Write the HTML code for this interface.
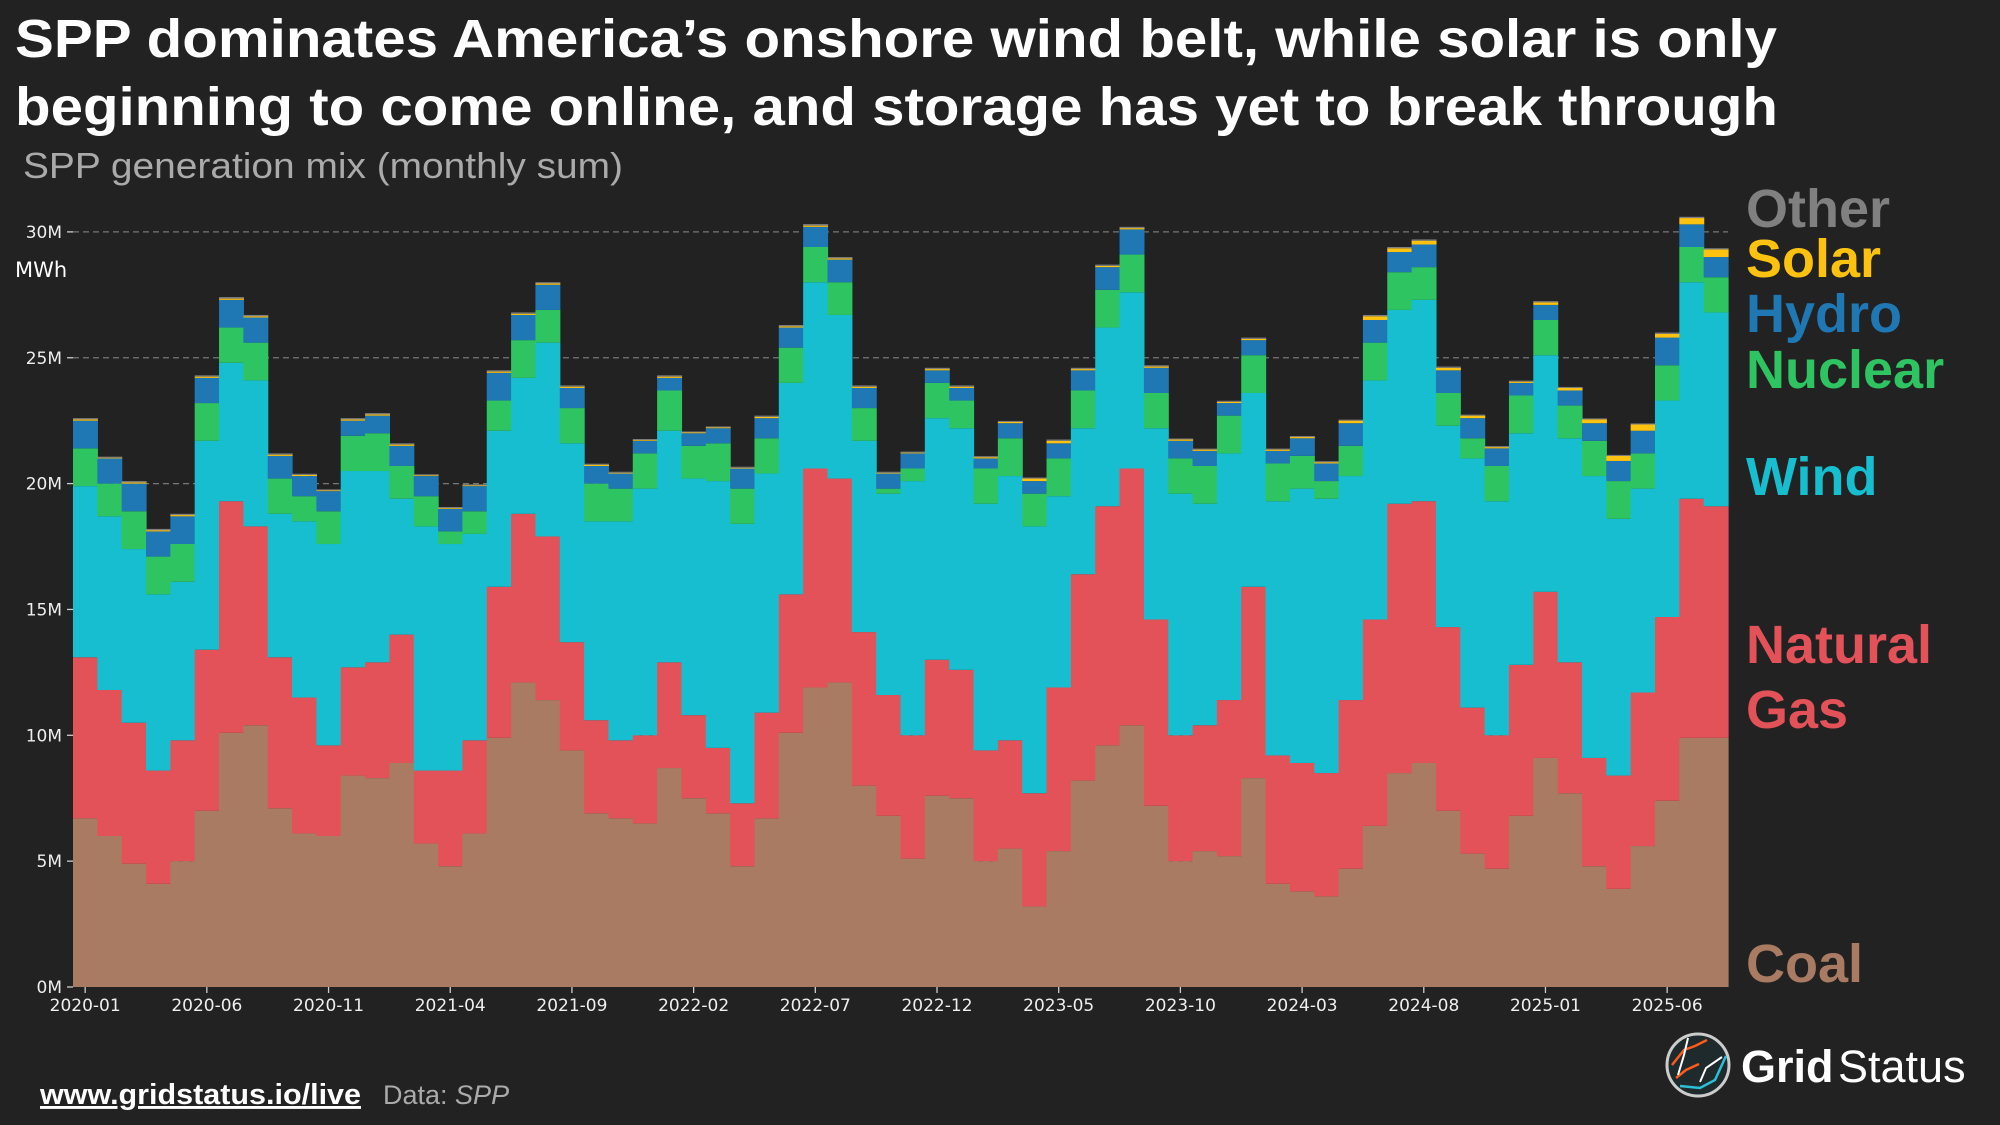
<!DOCTYPE html>
<html><head><meta charset="utf-8">
<style>
html,body{margin:0;padding:0;background:#222222;}
svg{display:block;}
</style></head>
<body>
<svg id="chart" width="2000" height="1125" viewBox="0 0 2000 1125" xmlns="http://www.w3.org/2000/svg">
<rect x="0" y="0" width="2000" height="1125" fill="#222222"/>
<text x="15" y="57" font-family="Liberation Sans, sans-serif" font-weight="bold" font-size="54" fill="#ffffff" textLength="1762" lengthAdjust="spacingAndGlyphs">SPP dominates America’s onshore wind belt, while solar is only</text>
<text x="15" y="125" font-family="Liberation Sans, sans-serif" font-weight="bold" font-size="54" fill="#ffffff" textLength="1763" lengthAdjust="spacingAndGlyphs">beginning to come online, and storage has yet to break through</text>
<text x="23" y="178" font-family="Liberation Sans, sans-serif" font-size="36" fill="#aaaaaa" textLength="600" lengthAdjust="spacingAndGlyphs">SPP generation mix (monthly sum)</text>
<text x="15" y="277" font-family="DejaVu Sans, sans-serif" font-size="21" fill="#ffffff">MWh</text>
<g id="grid"></g>
<g id="bars"></g>
<g id="axes"></g>
<g font-family="Liberation Sans, sans-serif" font-weight="bold" font-size="54">
<text x="1746" y="227" fill="#808080">Other</text>
<text x="1746" y="277" fill="#fdc10f">Solar</text>
<text x="1746" y="332" fill="#1f77b4">Hydro</text>
<text x="1746" y="388" fill="#2ec462">Nuclear</text>
<text x="1746" y="495" fill="#17becf">Wind</text>
<text x="1746" y="663" fill="#e35259">Natural</text>
<text x="1746" y="728" fill="#e35259">Gas</text>
<text x="1746" y="982" fill="#a97b62">Coal</text>
</g>
<a>
<text x="40" y="1104" font-family="Liberation Sans, sans-serif" font-weight="bold" font-size="29" fill="#ffffff" text-decoration="underline" textLength="321" lengthAdjust="spacingAndGlyphs">www.gridstatus.io/live</text>
</a>
<text x="383" y="1104" font-family="Liberation Sans, sans-serif" font-size="27" fill="#aaaaaa">Data: <tspan font-style="italic">SPP</tspan></text>
<g>
<circle cx="1698" cy="1065" r="31" fill="#1e2a2c" stroke="#cccccc" stroke-width="3"/>
<path d="M1672 1065 L1684 1050 L1695 1046 L1707 1040" stroke="#ff5a1a" stroke-width="2.5" fill="none"/>
<path d="M1676 1078 L1686 1070 L1699 1064" stroke="#ff5a1a" stroke-width="2.5" fill="none"/>
<path d="M1688 1038 L1684 1055 L1678 1075" stroke="#ffffff" stroke-width="2" fill="none"/>
<path d="M1700 1082 L1706 1068 L1722 1057" stroke="#ffffff" stroke-width="2" fill="none"/>
<path d="M1680 1086 L1700 1088 L1715 1080 L1726 1056" stroke="#2bc0d6" stroke-width="2.5" fill="none"/>
<text x="1741" y="1082" font-family="Liberation Sans, sans-serif" font-weight="bold" font-size="45" fill="#ffffff">Grid</text>
<text x="1838" y="1082" font-family="Liberation Sans, sans-serif" font-size="45" fill="#ffffff">Status</text>
</g>
</svg>
<script>
const months = ["2020-01","2020-02","2020-03","2020-04","2020-05","2020-06","2020-07","2020-08","2020-09","2020-10","2020-11","2020-12",
"2021-01","2021-02","2021-03","2021-04","2021-05","2021-06","2021-07","2021-08","2021-09","2021-10","2021-11","2021-12",
"2022-01","2022-02","2022-03","2022-04","2022-05","2022-06","2022-07","2022-08","2022-09","2022-10","2022-11","2022-12",
"2023-01","2023-02","2023-03","2023-04","2023-05","2023-06","2023-07","2023-08","2023-09","2023-10","2023-11","2023-12",
"2024-01","2024-02","2024-03","2024-04","2024-05","2024-06","2024-07","2024-08","2024-09","2024-10","2024-11","2024-12",
"2025-01","2025-02","2025-03","2025-04","2025-05","2025-06","2025-07","2025-08"];
// values in millions of MWh
const coal = [6.7,6.0,4.9,4.1,5.0,7.0,10.1,10.4,7.1,6.1,6.0,8.4,8.3,8.9,5.7,4.8,6.1,9.9,12.1,11.4,9.4,6.9,6.7,6.5,8.7,7.5,6.9,4.8,6.7,10.1,11.9,12.1,8.0,6.8,5.1,7.6,7.5,5.0,5.5,3.2,5.4,8.2,9.6,10.4,7.2,5.0,5.4,5.2,8.3,4.1,3.8,3.6,4.7,6.4,8.5,8.9,7.0,5.3,4.7,6.8,9.1,7.7,4.8,3.9,5.6,7.4,9.9,9.9];
const gas = [6.4,5.8,5.6,4.5,4.8,6.4,9.2,7.9,6.0,5.4,3.6,4.3,4.6,5.1,2.9,3.8,3.7,6.0,6.7,6.5,4.3,3.7,3.1,3.5,4.2,3.3,2.6,2.5,4.2,5.5,8.7,8.1,6.1,4.8,4.9,5.4,5.1,4.4,4.3,4.5,6.5,8.2,9.5,10.2,7.4,5.0,5.0,6.2,7.6,5.1,5.1,4.9,6.7,8.2,10.7,10.4,7.3,5.8,5.3,6.0,6.6,5.2,4.3,4.5,6.1,7.3,9.5,9.2];
const wind = [6.8,6.9,6.9,7.0,6.3,8.3,5.5,5.8,5.7,7.0,8.0,7.8,7.6,5.4,9.7,9.0,8.2,6.2,5.4,7.7,7.9,7.9,8.7,9.8,9.2,9.4,10.6,11.1,9.5,8.4,7.4,6.5,7.6,8.0,10.1,9.6,9.6,9.8,10.5,10.6,7.6,5.8,7.1,7.0,7.6,9.6,8.8,9.8,7.7,10.1,10.9,10.9,8.9,9.5,7.7,8.0,8.0,9.9,9.3,9.2,9.4,8.9,11.2,10.2,8.1,8.6,8.6,7.7];
const nuclear = [1.5,1.3,1.5,1.5,1.5,1.5,1.4,1.5,1.4,1.0,1.3,1.4,1.5,1.3,1.2,0.5,0.9,1.2,1.5,1.3,1.4,1.5,1.3,1.4,1.6,1.3,1.5,1.4,1.4,1.4,1.4,1.3,1.3,0.2,0.5,1.4,1.1,1.4,1.5,1.3,1.5,1.5,1.5,1.5,1.4,1.4,1.5,1.5,1.5,1.5,1.3,0.7,1.2,1.5,1.5,1.3,1.3,0.8,1.4,1.5,1.4,1.3,1.4,1.5,1.4,1.4,1.4,1.4];
const hydro = [1.1,1.0,1.1,1.0,1.1,1.0,1.1,1.0,0.9,0.8,0.8,0.6,0.7,0.8,0.8,0.9,1.0,1.1,1.0,1.0,0.8,0.7,0.6,0.5,0.5,0.5,0.6,0.8,0.8,0.8,0.8,0.9,0.8,0.6,0.6,0.5,0.5,0.4,0.6,0.5,0.6,0.8,0.9,1.0,1.0,0.7,0.6,0.5,0.6,0.5,0.7,0.7,0.9,0.9,0.8,0.9,0.9,0.8,0.7,0.5,0.6,0.6,0.7,0.8,0.9,1.1,0.9,0.8];
const solar = [0.05,0.03,0.05,0.05,0.05,0.05,0.05,0.05,0.05,0.05,0.03,0.05,0.05,0.05,0.03,0.03,0.03,0.05,0.05,0.05,0.05,0.05,0.03,0.03,0.05,0.03,0.03,0.03,0.05,0.05,0.05,0.05,0.05,0.03,0.03,0.05,0.05,0.05,0.05,0.1,0.1,0.05,0.05,0.05,0.05,0.05,0.05,0.05,0.05,0.05,0.05,0.05,0.1,0.15,0.15,0.15,0.1,0.1,0.05,0.05,0.1,0.1,0.15,0.2,0.25,0.15,0.25,0.3];
const other = [0.05,0.04,0.05,0.05,0.05,0.05,0.06,0.05,0.05,0.04,0.04,0.05,0.05,0.05,0.04,0.04,0.04,0.05,0.05,0.05,0.05,0.04,0.04,0.04,0.05,0.04,0.04,0.04,0.05,0.05,0.06,0.05,0.05,0.04,0.04,0.05,0.05,0.04,0.04,0.04,0.05,0.05,0.05,0.05,0.05,0.04,0.04,0.04,0.05,0.04,0.04,0.04,0.04,0.05,0.05,0.05,0.05,0.04,0.04,0.04,0.05,0.04,0.04,0.04,0.04,0.05,0.05,0.05];
const yTicks = [0,5,10,15,20,25,30];
const yTickLabels = ["0M","5M","10M","15M","20M","25M","30M"];
const xTickEvery = 5;

const NS = "http://www.w3.org/2000/svg";
const plotLeft = 73, plotRight = 1728, baseY = 987, pxPerM = 25.17;
const bw = (plotRight - plotLeft) / months.length;
function xScale(i){ return plotLeft + i * bw; }
function yScale(v){ return baseY - v * pxPerM; }

const series = [
  {name:"coal", vals:coal, color:"#a97b62"},
  {name:"natural-gas", vals:gas, color:"#e35259"},
  {name:"wind", vals:wind, color:"#17becf"},
  {name:"nuclear", vals:nuclear, color:"#2ec462"},
  {name:"hydro", vals:hydro, color:"#1f77b4"},
  {name:"solar", vals:solar, color:"#fdc10f"},
  {name:"other", vals:other, color:"#808080"}
];

const grid = document.getElementById("grid");
const axes = document.getElementById("axes");
yTicks.forEach((t, k) => {
  const y = yScale(t);
  if (t > 0) {
    const gl = document.createElementNS(NS, "line");
    gl.setAttribute("x1", plotLeft); gl.setAttribute("x2", plotRight);
    gl.setAttribute("y1", y); gl.setAttribute("y2", y);
    gl.setAttribute("stroke", "#777777"); gl.setAttribute("stroke-width", "1.3");
    gl.setAttribute("stroke-dasharray", "6,4");
    
    
    grid.appendChild(gl);
  }
  const tm = document.createElementNS(NS, "line");
  tm.setAttribute("x1", 67); tm.setAttribute("x2", 73);
  tm.setAttribute("y1", y); tm.setAttribute("y2", y);
  tm.setAttribute("stroke", "#cccccc"); tm.setAttribute("stroke-width", "1.3");
  
  
  axes.appendChild(tm);
  const tx = document.createElementNS(NS, "text");
  tx.setAttribute("x", 62); tx.setAttribute("y", y + 6);
  tx.setAttribute("text-anchor", "end");
  tx.setAttribute("font-family", "DejaVu Sans, sans-serif");
  tx.setAttribute("font-size", "17"); tx.setAttribute("fill", "#eeeeee");
  tx.textContent = yTickLabels[k];
  
  
  axes.appendChild(tx);
});

const bars = document.getElementById("bars");
months.forEach((m, i) => {
  let cum = 0;
  series.forEach(s => {
    const v = s.vals[i];
    const y0 = yScale(cum), y1 = yScale(cum + v);
    cum += v;
    const r = document.createElementNS(NS, "rect");
    r.setAttribute("x", xScale(i));
    r.setAttribute("y", y1);
    r.setAttribute("width", bw + 0.6);
    r.setAttribute("height", Math.max(0, y0 - y1));
    r.setAttribute("fill", s.color);
    
    
    bars.appendChild(r);
  });
  if (i % xTickEvery === 0) {
    const cx = xScale(i) + bw / 2;
    const tm = document.createElementNS(NS, "line");
    tm.setAttribute("x1", cx); tm.setAttribute("x2", cx);
    tm.setAttribute("y1", baseY); tm.setAttribute("y2", baseY + 6);
    tm.setAttribute("stroke", "#cccccc"); tm.setAttribute("stroke-width", "1.3");
    
    
    axes.appendChild(tm);
    const tx = document.createElementNS(NS, "text");
    tx.setAttribute("x", cx); tx.setAttribute("y", baseY + 24);
    tx.setAttribute("text-anchor", "middle");
    tx.setAttribute("font-family", "DejaVu Sans, sans-serif");
    tx.setAttribute("font-size", "17"); tx.setAttribute("fill", "#eeeeee");
    tx.textContent = m;
    
    
    axes.appendChild(tx);
  }
});
</script>
</body></html>
